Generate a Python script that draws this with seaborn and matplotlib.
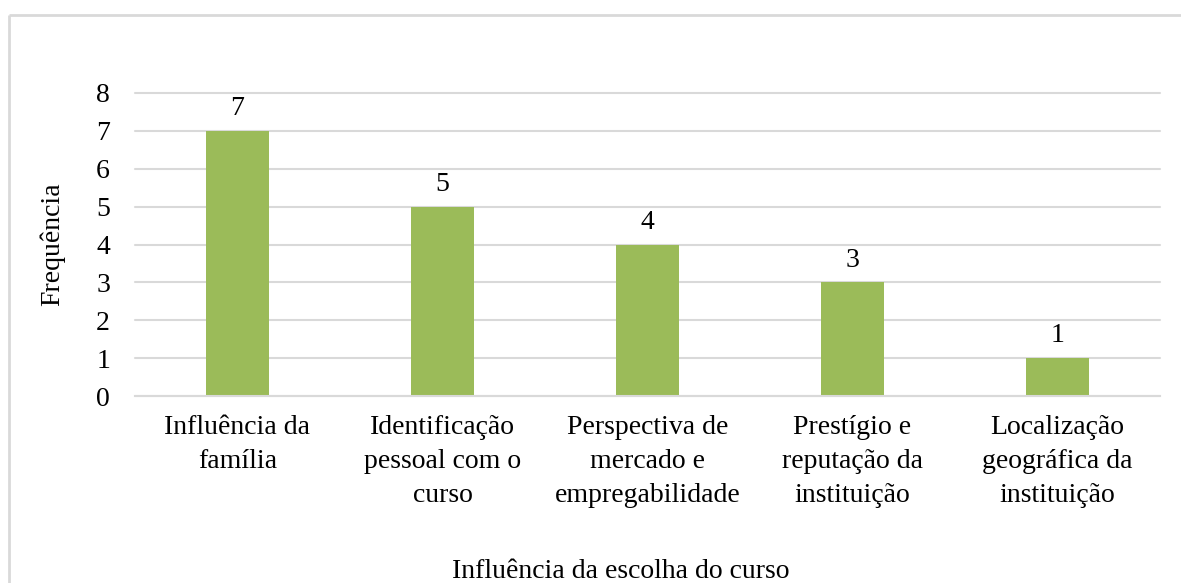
import matplotlib
matplotlib.use("Agg")
import matplotlib.pyplot as plt
import seaborn as sns
import pandas as pd
from matplotlib.lines import Line2D

# data
categorias = [
    "Influência da\nfamília",
    "Identificação\npessoal com o\ncurso",
    "Perspectiva de\nmercado e\nempregabilidade",
    "Prestígio e\nreputação da\ninstituição",
    "Localização\ngeográfica da\ninstituição",
]
frequencia = [7, 5, 4, 3, 1]
y_ticks = [0, 1, 2, 3, 4, 5, 6, 7, 8]

df = pd.DataFrame({"categoria": categorias, "freq": frequencia})

sns.set_theme(style="white")
plt.rcParams["font.family"] = ["Liberation Serif", "DejaVu Serif"]
plt.rcParams["font.size"] = 20

W, H = 1181, 583
fig = plt.figure(figsize=(W / 100, H / 100), dpi=100)
fig.patch.set_facecolor("white")

# light frame around the chart area (cropped at right/bottom)
frame = dict(transform=fig.transFigure, color="#D9D9D9", linewidth=2,
             solid_capstyle="butt")
fig.lines.append(Line2D([8.5 / W, 1.05], [1 - 14.5 / H, 1 - 14.5 / H], **frame))
fig.lines.append(Line2D([8.5 / W, 8.5 / W], [-0.05, 1 - 14.5 / H], **frame))

ax = fig.add_axes([135 / W, 1 - 396 / H, (1160 - 135) / W, (396 - 93) / H])
sns.barplot(data=df, x="categoria", y="freq", color="#9BBB59",
            saturation=1, width=0.31, linewidth=0, ax=ax)

ax.set_ylim(0, 8)
ax.set_yticks(y_ticks)
ax.set_xlim(-0.5, len(categorias) - 0.5)
ax.yaxis.grid(True, color="#D9D9D9", linewidth=1.5)
for gl in ax.get_ygridlines():
    gl.set_clip_on(False)
ax.set_axisbelow(True)
for s in ["top", "right", "left"]:
    ax.spines[s].set_visible(False)
ax.spines["bottom"].set_color("#D9D9D9")
ax.spines["bottom"].set_linewidth(1.5)
ax.tick_params(axis="y", length=0, pad=18, labelsize=20, labelcolor="black")
ax.tick_params(axis="x", length=0, pad=14, labelsize=20, labelcolor="black")
ax.set_xticks(range(len(categorias)))
ax.set_xticklabels(categorias, linespacing=1.45)

ax.bar_label(ax.containers[0], fontsize=20, padding=7, color="black")

ax.set_xlabel("")
ax.set_ylabel("Frequência", fontsize=20, labelpad=22, color="black")
fig.text(621 / W, 1 - 572 / H, "Influência da escolha do curso",
         ha="center", va="center", fontsize=20, color="black")

fig.savefig("out.png", dpi=100, facecolor="white")
